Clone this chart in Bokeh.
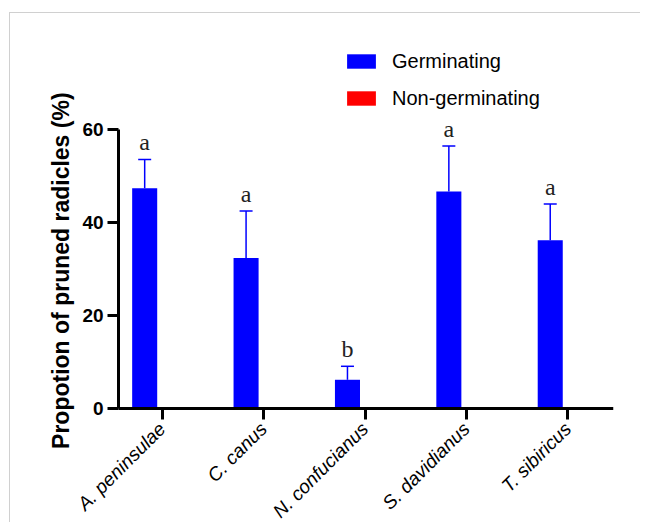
import math
from bokeh.plotting import figure
from bokeh.models import (Range1d, FixedTicker, Legend, LegendItem, ColumnDataSource,
                          Whisker, TeeHead, LabelSet, LinearAxis, InlineStyleSheet)
from bokeh.core.properties import value
from bokeh.transform import dodge
from bokeh.embed import file_html
from bokeh.resources import INLINE

# ---- data ----
species = ["A. peninsulae", "C. canus", "N. confucianus", "S. davidianus", "T. sibiricus"]
germinating = [47.4, 32.4, 6.2, 46.7, 36.2]
germinating_sd = [6.2, 10.1, 2.9, 9.8, 7.8]
non_germinating = [0, 0, 0, 0, 0]
letters = ["a", "a", "b", "a", "a"]
y_ticks = [0, 20, 40, 60]

idx = list(range(len(species)))
src = ColumnDataSource(dict(
    x=idx,
    germ=germinating,
    upper=[m + s for m, s in zip(germinating, germinating_sd)],
    nongerm=non_germinating,
    letter=letters,
))

BLUE = "#0000ff"
RED = "#ff0000"
OFF = 0.173
W = 0.247
X0 = -0.431   # where the y axis sits

p = figure(width=640, height=522, output_backend="svg", toolbar_location=None,
           x_range=Range1d(-0.885, 4.451), y_range=Range1d(-24.5, 85.2),
           min_border_left=72, min_border_right=27, min_border_top=12,
           min_border_bottom=0)
p.outline_line_color = None
p.xgrid.visible = False
p.ygrid.visible = False
p.border_fill_alpha = 0
p.background_fill_alpha = 0
p.stylesheets = [InlineStyleSheet(css=(
    ":host {"
    " background-image: linear-gradient(#d0d0d0,#d0d0d0), linear-gradient(#d0d0d0,#d0d0d0);"
    " background-position: left 9px top 12px, left 9px top 12px;"
    " background-size: 1px 510px, 631px 1px;"
    " background-repeat: no-repeat, no-repeat;"
    " background-origin: border-box, border-box;"
    " background-clip: border-box, border-box; }"
))]

r_g = p.vbar(x=dodge("x", -OFF), top="germ", width=W, source=src,
             fill_color=BLUE, line_color=None)
r_n = p.vbar(x=dodge("x", OFF), top="nongerm", width=W, source=src,
             fill_color=RED, line_color=None)

wh = Whisker(base=dodge("x", -OFF), upper="upper", lower="germ", source=src,
             dimension="height", line_color=BLUE, line_width=1.5,
             upper_head=TeeHead(size=13, line_color=BLUE, line_width=1.5),
             lower_head=None)
p.add_layout(wh)

labels = LabelSet(x=dodge("x", -OFF), y="upper", text="letter", source=src,
                  text_align="center", text_baseline="alphabetic", y_offset=9,
                  text_font=value("Liberation Serif"), text_font_size="24px",
                  text_color="#222222")
p.add_layout(labels)

# x axis (at y = 0)
xa = p.xaxis[0]
xa.fixed_location = 0
xa.bounds = (X0, 4.451)
xa.ticker = FixedTicker(ticks=idx)
xa.major_label_overrides = {i: s for i, s in zip(idx, species)}
xa.major_label_orientation = math.pi / 4
xa.major_label_text_font = "Liberation Sans"
xa.major_label_text_font_style = "italic"
xa.major_label_text_font_size = "19px"
xa.major_label_text_color = "black"
xa.major_tick_in = 0
xa.major_tick_out = 11
xa.major_tick_line_width = 3
xa.axis_line_width = 3
xa.minor_tick_line_color = None
xa.major_label_standoff = 6

# y axis (ticks) at x = X0
ya = p.yaxis[0]
ya.fixed_location = X0
ya.ticker = FixedTicker(ticks=y_ticks)
ya.bounds = (0, 60)
ya.major_label_text_font = "Liberation Sans"
ya.major_label_text_font_style = "bold"
ya.major_label_text_font_size = "19px"
ya.major_label_text_color = "black"
ya.major_label_standoff = 4
ya.major_tick_in = 0
ya.major_tick_out = 11
ya.major_tick_line_width = 3
ya.axis_line_width = 3
ya.minor_tick_line_color = None

# y axis title
ylab = LinearAxis(ticker=FixedTicker(ticks=[]), axis_line_color=None,
                  major_tick_line_color=None, minor_tick_line_color=None,
                  axis_label="Propotion of pruned radicles  (%)",
                  axis_label_text_font="Liberation Sans",
                  axis_label_text_font_style="bold",
                  axis_label_text_font_size="23px",
                  axis_label_text_color="black",
                  axis_label_standoff=-1)
p.add_layout(ylab, "left")

legend = Legend(items=[LegendItem(label="Germinating", renderers=[r_g]),
                       LegendItem(label="Non-germinating", renderers=[r_n])],
                location=(271, 412), orientation="vertical")
legend.label_text_font = "Liberation Sans"
legend.label_text_font_size = "20px"
legend.label_text_color = "black"
legend.glyph_width = 36
legend.glyph_height = 18
legend.label_standoff = 13
legend.label_height = 24
legend.spacing = 13
legend.padding = 0
legend.margin = 0
legend.border_line_color = None
legend.background_fill_alpha = 0
p.add_layout(legend, "center")

open("out.html", "w").write(file_html(p, INLINE))
